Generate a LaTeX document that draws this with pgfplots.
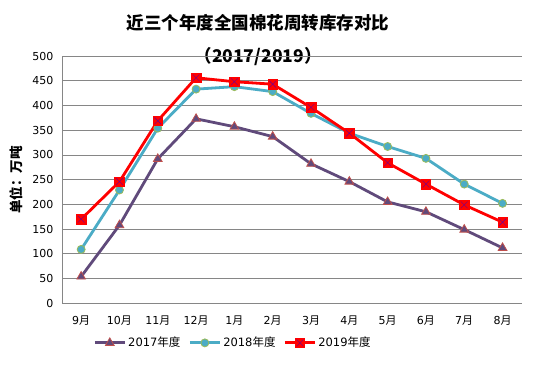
\documentclass[border=0pt]{standalone}
\usepackage{pgfplots}
\pgfplotsset{compat=1.18}
\usepackage{fontspec}
\setmainfont{DejaVu Sans}
\newfontfamily\cjk{Noto Sans CJK SC}
\definecolor{c17}{HTML}{604A7B}
\definecolor{c17e}{HTML}{C0504D}
\definecolor{c18}{HTML}{4BACC6}
\definecolor{c18e}{HTML}{9BBB59}
\definecolor{c19}{HTML}{FF0000}
\definecolor{gridc}{HTML}{868686}
\pgfdeclareplotmark{sqx}{%
  \pgfpathrectangle{\pgfqpoint{-\pgfplotmarksize}{-\pgfplotmarksize}}{\pgfqpoint{2\pgfplotmarksize}{2\pgfplotmarksize}}%
  \pgfusepathqfillstroke
  \begin{pgfscope}
  \pgfsetstrokecolor{blue!60!red}\pgfsetlinewidth{0.4pt}%
  \pgfpathmoveto{\pgfqpoint{-0.7\pgfplotmarksize}{-0.7\pgfplotmarksize}}%
  \pgfpathlineto{\pgfqpoint{0.7\pgfplotmarksize}{0.7\pgfplotmarksize}}%
  \pgfpathmoveto{\pgfqpoint{-0.7\pgfplotmarksize}{0.7\pgfplotmarksize}}%
  \pgfpathlineto{\pgfqpoint{0.7\pgfplotmarksize}{-0.7\pgfplotmarksize}}%
  \pgfusepathqstroke
  \end{pgfscope}
}
\begin{document}
\begin{tikzpicture}[x=1pt,y=1pt]
\fill[white] (0,0) rectangle (554,369);
\path[use as bounding box] (0,0) rectangle (554,369);
\node[font=\cjk\bfseries\fontsize{17.5}{20}\selectfont] at (258,346) {近三个年度全国棉花周转库存对比};
\node[font=\cjk\bfseries\fontsize{17.5}{20}\selectfont] at (258,312) {（2017/2019）};
\node[rotate=90,font=\cjk\bfseries\fontsize{13.5}{15}\selectfont] at (16,189) {单位：万吨};
\begin{axis}[
  at={(62pt,65.7pt)}, anchor=south west,
  scale only axis, width=459.7pt, height=247.3pt,
  xmin=-0.5, xmax=11.5, ymin=0, ymax=500,
  xtick={0,...,11},
  xticklabels={9{\cjk 月},10{\cjk 月},11{\cjk 月},12{\cjk 月},1{\cjk 月},2{\cjk 月},3{\cjk 月},4{\cjk 月},5{\cjk 月},6{\cjk 月},7{\cjk 月},8{\cjk 月}},
  ytick={0,50,...,500},
  ymajorgrids, grid style={gridc, line width=0.8pt},
  major tick length=0pt,
  axis x line*=bottom, axis y line*=left,
  axis line style={-, gridc, line width=0.8pt},
  tick label style={font=\fontsize{11}{13}\selectfont},
  /pgf/number format/assume math mode=true,
  yticklabel style={xshift=-5pt},
  xticklabel style={yshift=-9pt},
  legend columns=3,
  legend style={at={(axis description cs:0.372,-0.16)}, anchor=center, draw=none, fill=none,
    font=\fontsize{11.5}{13}\selectfont, /tikz/every even column/.append style={column sep=6pt}},
  legend image code/.code={\draw[mark repeat=2,mark phase=2] plot coordinates {(0pt,0pt) (15pt,0pt) (30pt,0pt)};},
]
\addplot[c17, line width=2.8pt, mark=triangle*, mark size=5pt, mark options={fill=c17, draw=c17e, line width=0.8pt}]
 coordinates {(0,54) (1,158) (2,292) (3,373) (4,357) (5,337) (6,282) (7,246) (8,205) (9,185) (10,149) (11,112)};
\addlegendentry{2017{\cjk 年度}}
\addplot[c18, line width=2.8pt, mark=*, mark size=4pt, mark options={fill=c18, draw=c18e, line width=0.8pt}]
 coordinates {(0,109) (1,229) (2,354) (3,433) (4,438) (5,428) (6,384) (7,344) (8,317) (9,293) (10,241) (11,202)};
\addlegendentry{2018{\cjk 年度}}
\addplot[c19, line width=2.8pt, mark=sqx, mark size=4.8pt, mark options={fill=c19, draw=c19, line width=0.5pt}]
 coordinates {(0,170) (1,246) (2,369) (3,456) (4,448) (5,443) (6,396) (7,344) (8,284) (9,241) (10,199) (11,164)};
\addlegendentry{2019{\cjk 年度}}
\end{axis}
\end{tikzpicture}
\end{document}
